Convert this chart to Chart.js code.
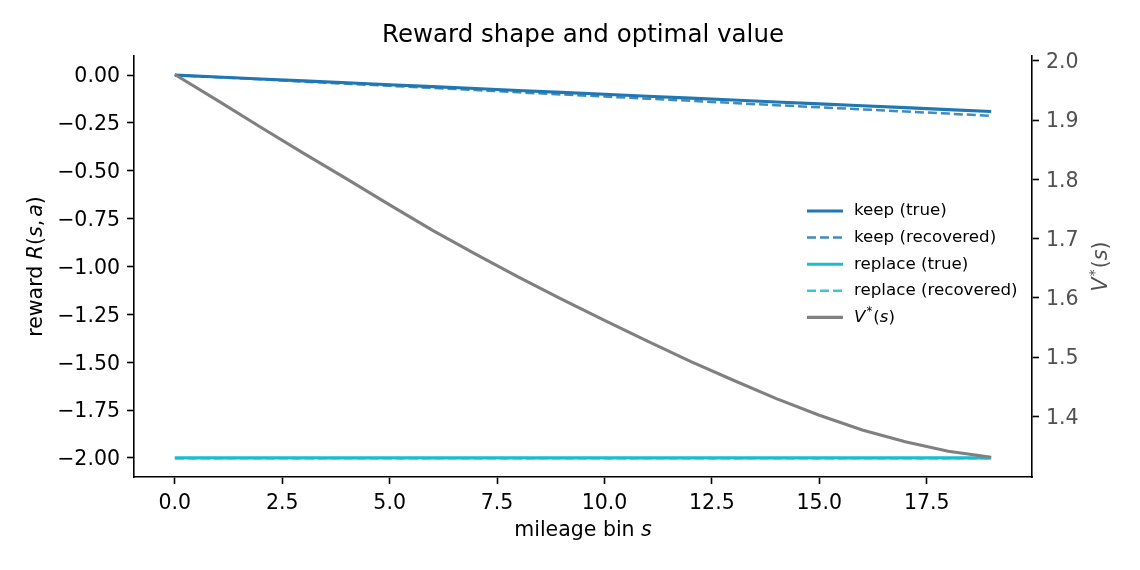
<!DOCTYPE html>
<html>
<head>
<meta charset="utf-8">
<script src="https://cdn.jsdelivr.net/npm/chart.js@4.4.1/dist/chart.umd.min.js"></script>
<style>
  html, body { margin: 0; padding: 0; background: #fff; }
  canvas { display: block; }
</style>
</head>
<body>
<canvas id="chart" width="1140" height="570"></canvas>
<script>
// mileage bins and read-off values
var mileage = [0, 1, 2, 3, 4, 5, 6, 7, 8, 9, 10, 11, 12, 13, 14, 15, 16, 17, 18, 19];
var keepTrue = [0, -0.01, -0.02, -0.03, -0.04, -0.05, -0.06, -0.07, -0.08, -0.09,
                -0.10, -0.11, -0.12, -0.13, -0.14, -0.15, -0.16, -0.17, -0.18, -0.19];
var keepRecovered = [0, -0.011, -0.022, -0.034, -0.045, -0.056, -0.067, -0.078, -0.090, -0.101,
                     -0.112, -0.123, -0.134, -0.146, -0.157, -0.168, -0.179, -0.190, -0.201, -0.213];
var replaceTrue = [-2, -2, -2, -2, -2, -2, -2, -2, -2, -2,
                   -2, -2, -2, -2, -2, -2, -2, -2, -2, -2];
var replaceRecovered = [-2.002, -2.002, -2.002, -2.002, -2.002, -2.002, -2.002, -2.002, -2.002, -2.002,
                        -2.002, -2.002, -2.002, -2.002, -2.002, -2.002, -2.002, -2.002, -2.002, -2.002];
var valueStar = [1.977, 1.933, 1.888, 1.844, 1.801, 1.757, 1.714, 1.674, 1.635, 1.598,
                 1.562, 1.527, 1.493, 1.461, 1.430, 1.402, 1.377, 1.357, 1.341, 1.331];

var mileageTicks = [0, 2.5, 5, 7.5, 10, 12.5, 15, 17.5];
var rewardTicks = [0, -0.25, -0.5, -0.75, -1, -1.25, -1.5, -1.75, -2];
var valueTicks = [1.4, 1.5, 1.6, 1.7, 1.8, 1.9, 2.0];

var FONT = "'DejaVu Sans', sans-serif";
var BLUE = '#1f77b4';
var CYAN = '#17becf';

function pts(ys) {
  return mileage.map(function(s, i){ return {x: s, y: ys[i]}; });
}

function fixTicks(list) {
  return function(scale){ scale.ticks = list.map(function(v){ return {value: v}; }); };
}

function axisStyle(color) {
  return {
    grid: { drawOnChartArea: false, drawTicks: true, tickLength: 7, tickColor: '#000', tickWidth: 1.6 },
    border: { display: true, color: '#000', width: 1.6 },
    ticks: { color: color, font: { family: FONT, size: 20.5 }, padding: 7, autoSkip: false, maxRotation: 0 }
  };
}

var xAxis = axisStyle('#000');
xAxis.type = 'linear';
xAxis.min = -0.95;
xAxis.max = 19.95;
xAxis.afterBuildTicks = fixTicks(mileageTicks);
xAxis.ticks.callback = function(v){ return v.toFixed(1); };
xAxis.afterFit = function(s){ s.height = 93; };

var yAxis = axisStyle('#000');
yAxis.position = 'left';
yAxis.min = -2.1;
yAxis.max = 0.1;
yAxis.afterBuildTicks = fixTicks(rewardTicks);
yAxis.ticks.callback = function(v){ return v.toFixed(2).replace('-', '\u2212'); };
yAxis.ticks.labelOffset = 2;
yAxis.afterFit = function(s){ s.width = 134; };

var y2Axis = axisStyle('#505050');
y2Axis.position = 'right';
y2Axis.min = 1.2977;
y2Axis.max = 2.0083;
y2Axis.afterBuildTicks = fixTicks(valueTicks);
y2Axis.ticks.callback = function(v){ return v.toFixed(1); };
y2Axis.ticks.labelOffset = 2;
y2Axis.afterFit = function(s){ s.width = 108; };

// mixed italic / upright text, like matplotlib mathtext
function runFont(r, size) {
  return (r.it ? 'italic ' : '') + (r.sup ? size * 0.7 : size) + 'px ' + FONT;
}

function runsWidth(ctx, runs, size) {
  var total = 0;
  runs.forEach(function(r){ ctx.font = runFont(r, size); total += ctx.measureText(r.t).width + (r.gap || 0); });
  return total;
}

function drawRuns(ctx, runs, x, y, size) {
  var cx = x - runsWidth(ctx, runs, size) / 2;
  runs.forEach(function(r){
    ctx.font = runFont(r, size);
    ctx.fillText(r.t, cx, y + (r.sup ? -size * 0.35 : 0));
    cx += ctx.measureText(r.t).width + (r.gap || 0);
  });
}

var vRuns = function(){ return [{t: 'V', it: true, gap: 1}, {t: '*', sup: true, gap: 1}, {t: '('}, {t: 's', it: true}, {t: ')'}]; };

var labelsPlugin = {
  id: 'labels',
  afterDraw: function(chart){
    var ctx = chart.ctx;
    var area = chart.chartArea;
    var midX = (area.left + area.right) / 2;
    var midY = (area.top + area.bottom) / 2;
    ctx.save();
    ctx.textBaseline = 'middle';
    ctx.textAlign = 'left';
    ctx.fillStyle = '#000';

    // title over the axes
    drawRuns(ctx, [{t: 'Reward shape and optimal value'}], midX, 36, 24.5);

    // x label
    drawRuns(ctx, [{t: 'mileage bin '}, {t: 's', it: true}], midX, 531, 20.5);

    // left y label
    ctx.save();
    ctx.translate(37, midY);
    ctx.rotate(-Math.PI / 2);
    drawRuns(ctx, [{t: 'reward '}, {t: 'R', it: true}, {t: '('}, {t: 's', it: true}, {t: ',', gap: 3},
                   {t: 'a', it: true}, {t: ')'}], 0, 0, 20.5);
    ctx.restore();

    // right y label
    ctx.save();
    ctx.fillStyle = '#505050';
    ctx.translate(1102, midY);
    ctx.rotate(-Math.PI / 2);
    drawRuns(ctx, vRuns(), 0, 0, 20.5);
    ctx.restore();

    // legend, no frame
    var rowY = 211;
    chart.data.datasets.forEach(function(ds){
      ctx.beginPath();
      ctx.strokeStyle = ds.borderColor;
      ctx.lineWidth = ds.borderWidth;
      ctx.setLineDash(ds.borderDash || []);
      ctx.moveTo(807, rowY);
      ctx.lineTo(843, rowY);
      ctx.stroke();
      ctx.setLineDash([]);
      ctx.fillStyle = '#000';
      var runs = ds.legendRuns || [{t: ds.label}];
      drawRuns(ctx, runs, 854 + runsWidth(ctx, runs, 16.7) / 2, rowY, 16.7);
      rowY += 26.6;
    });
    ctx.restore();
  }
};

new Chart(document.getElementById('chart'), {
  type: 'line',
  data: {
    datasets: [
      { label: 'keep (true)', data: pts(keepTrue), borderColor: BLUE, borderWidth: 3.1, yAxisID: 'y', order: 5 },
      { label: 'keep (recovered)', data: pts(keepRecovered), borderColor: 'rgba(31,119,180,0.85)', borderWidth: 2.5,
        borderDash: [9, 4], yAxisID: 'y', order: 4 },
      { label: 'replace (true)', data: pts(replaceTrue), borderColor: CYAN, borderWidth: 3.1, yAxisID: 'y', order: 3 },
      { label: 'replace (recovered)', data: pts(replaceRecovered), borderColor: 'rgba(23,190,207,0.85)', borderWidth: 2.5,
        borderDash: [9, 4], yAxisID: 'y', order: 2 },
      { label: 'V*(s)', legendRuns: vRuns(), data: pts(valueStar), borderColor: 'gray', borderWidth: 3.1,
        yAxisID: 'y2', order: 1 }
    ]
  },
  options: {
    responsive: false,
    animation: false,
    elements: { point: { radius: 0 }, line: { tension: 0, fill: false } },
    layout: { padding: { top: 56, left: 0, right: 0, bottom: 0 } },
    plugins: {
      legend: { display: false },
      tooltip: { enabled: false },
      title: { display: false }
    },
    scales: { x: xAxis, y: yAxis, y2: y2Axis }
  },
  plugins: [labelsPlugin]
});
</script>
</body>
</html>
